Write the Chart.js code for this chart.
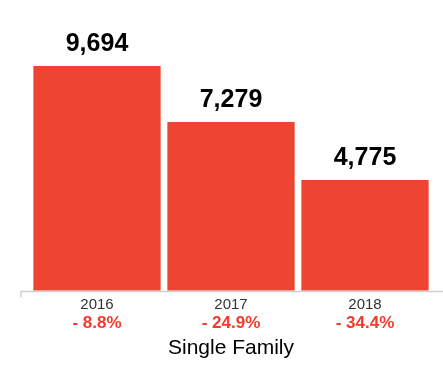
<!DOCTYPE html>
<html>
<head>
<meta charset="utf-8">
<script src="https://cdn.jsdelivr.net/npm/chart.js@4/dist/chart.umd.min.js"></script>
<style>
  html, body { margin: 0; padding: 0; background: #ffffff; }
  #wrap { position: relative; width: 443px; height: 375px; }
</style>
</head>
<body>
<div id="wrap"><canvas id="sf_chart"></canvas></div>
<script>
const year_labels = ['2016', '2017', '2018'];
const unit_counts = [9694, 7279, 4775];
const change_labels = ['- 8.8%', '- 24.9%', '- 34.4%'];
const axis_title = 'Single Family';

const sf_palette = {
    bar_red: '#ee4532',
    change_red: '#f23b2c',
    tick_grey: '#333333',
    base_line: '#cfcfcf',
    value_black: '#000000',
};

const font_family = '"Liberation Sans", Arial, Helvetica, sans-serif';

// value labels above bars, change row under the years, and the base line
const sf_overlay = {
    id: 'sf_overlay',
    afterDatasetsDraw(chart) {
        const ctx = chart.ctx;
        const meta = chart.getDatasetMeta(0);
        const x_scale = chart.scales.x;
        const y_scale = chart.scales.y;
        const base_y = Math.round(y_scale.getPixelForValue(0)) + 0.5;

        ctx.save();
        ctx.strokeStyle = sf_palette.base_line;
        ctx.lineWidth = 1.5;
        ctx.beginPath();
        ctx.moveTo(21, base_y + 6);
        ctx.lineTo(21, base_y);
        ctx.lineTo(chart.width, base_y);
        ctx.stroke();

        ctx.textAlign = 'center';
        ctx.textBaseline = 'middle';
        ctx.fillStyle = sf_palette.value_black;
        ctx.font = 'bold 25px ' + font_family;
        meta.data.forEach((bar, i) => {
            ctx.fillText(unit_counts[i].toLocaleString('en-US'), bar.x, bar.y - 22);
        });

        ctx.fillStyle = sf_palette.change_red;
        ctx.font = 'bold 17px ' + font_family;
        change_labels.forEach((txt, i) => {
            ctx.fillText(txt, x_scale.getPixelForValue(i), base_y + 32);
        });
        ctx.restore();
    },
};

new Chart(document.getElementById('sf_chart').getContext('2d'), {
    type: 'bar',
    data: {
        labels: year_labels,
        datasets: [
            {
                data: unit_counts,
                backgroundColor: sf_palette.bar_red,
                borderWidth: 0,
                barPercentage: 0.95,
                categoryPercentage: 1.0,
            },
        ],
    },
    options: {
        responsive: true,
        maintainAspectRatio: false,
        animation: false,
        layout: {
            padding: { left: 30, right: 11, top: 59, bottom: 0 },
        },
        plugins: {
            legend: { display: false },
            tooltip: { enabled: false },
        },
        scales: {
            x: {
                grid: { display: false, drawTicks: false },
                border: { display: false },
                ticks: {
                    color: sf_palette.tick_grey,
                    padding: 5,
                    font: { family: font_family, size: 15 },
                },
                title: {
                    display: true,
                    text: axis_title,
                    color: '#000000',
                    font: { family: font_family, size: 21 },
                    padding: { top: 17, bottom: 14 },
                },
            },
            y: {
                display: false,
                min: 0,
                max: 10000,
            },
        },
    },
    plugins: [sf_overlay],
});
</script>
</body>
</html>
